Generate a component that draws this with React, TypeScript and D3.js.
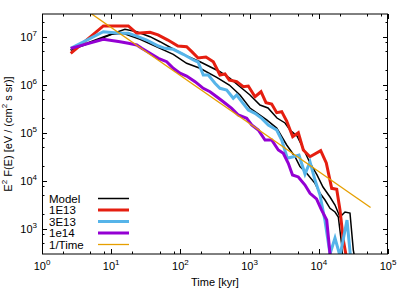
import React from "react";
import * as d3 from "d3";

// ---- data (time [kyr], E^2 F(E)) ----
const modelA: [number, number][] = [
  [2.6, 5.33e6], [4.94, 7.83e6], [7.69, 9.95e6], [15.8, 1.44e7], [23.4, 1.28e7],
  [36.4, 1.01e7], [50.7, 7.94e6], [83.6, 5.33e6], [123, 4.0e6], [192, 3.04e6],
  [268, 2.39e6], [373, 1.88e6], [521, 1.37e6], [726, 9.16e5], [1013, 6.16e5],
  [1413, 3.81e5], [1845, 3.3e5], [2489, 2.04e5], [3250, 1.61e5], [3837, 1.15e5],
  [4842, 8.61e4], [5912, 4.84e4], [7463, 2.36e4], [9419, 1.33e4], [11500, 7.46e3],
  [14520, 4.62e3], [17140, 3.15e3], [20240, 1.77e3], [23920, 2.25e3], [28230, 2.14e3],
  [31540, 363], [34500, 177],
];
const modelB: [number, number][] = [
  [2.6, 5.33e6], [4.94, 7.46e6], [10.2, 1.13e7], [14.8, 1.19e7], [26.1, 8.91e6],
  [78.9, 4.34e6], [123, 2.82e6], [192, 2.22e6], [335, 1.44e6], [509, 9.95e5],
  [726, 6.16e5], [1013, 3.3e5], [1766, 1.86e5], [2464, 1.26e5], [3436, 5.6e4],
  [4530, 3.19e4], [5345, 1.98e4], [6683, 1.44e4], [8810, 8.91e3], [10410, 5.52e3],
  [12300, 4.0e3], [14520, 2.69e3], [17140, 2.25e3], [19140, 1.77e3], [21430, 462],
  [22390, 204],
];
const s1E13: [number, number][] = [
  [2.6, 4.55e6], [7.7, 1.69e7], [17.7, 1.69e7], [23.4, 1.19e7], [36.4, 1.25e7],
  [47.5, 1.1e7], [66, 8.6e6], [92, 6.46e6], [123, 6.25e6], [146, 4.92e6],
  [180, 3.63e6], [234, 3.81e6], [299, 3.04e6], [373, 1.61e6], [441, 1.69e6],
  [509, 1.26e6], [651, 1.17e6], [811, 9.16e5], [958, 9.48e5], [1197, 5.68e5],
  [1462, 7.21e5], [1726, 4.26e5], [2086, 4.0e5], [2464, 2.64e5], [2911, 2.77e5],
  [3436, 1.77e5], [4197, 8.34e4], [5058, 1.01e5], [5971, 4.4e4], [7463, 3.19e4],
  [10650, 4.26e4], [12830, 2.36e4], [15360, 7.0e3], [18150, 6.7e3], [20240, 2.48e3],
  [22600, 587], [25500, 225],
];
const s3E13: [number, number][] = [
  [2.6, 5.78e6], [7.69, 1.28e7], [13.4, 1.19e7], [17.7, 1.19e7], [23.4, 1.04e7],
  [32.6, 8.61e6], [48, 6.46e6], [59.9, 5.78e6], [78.9, 5.52e6], [110, 4.34e6],
  [154, 3.3e6], [180, 3.0e6], [214, 1.61e6], [253, 1.61e6], [316, 1.08e6],
  [373, 8.49e5], [467, 7.83e5], [581, 5.26e5], [651, 6.16e5], [769, 4.47e5],
  [958, 3.0e5], [1197, 2.56e5], [1496, 2.01e5], [1863, 1.46e5], [2464, 1.15e5],
  [2911, 7.11e4], [3508, 2.96e4], [4283, 3.19e4], [5176, 3.46e4], [6318, 1.39e4],
  [7463, 2.48e4], [8810, 1.04e4], [10410, 5.08e3], [12300, 1.46e3], [14520, 300],
  [17140, 646], [20240, 272], [25570, 1.53e3], [29190, 204],
];
const s1e14: [number, number][] = [
  [2.6, 5.78e6], [7.69, 8.91e6], [13.4, 7.94e6], [17.7, 7.36e6], [23.4, 6.78e6],
  [27.6, 5.78e6], [36.4, 4.55e6], [48, 3.58e6], [63.4, 3.04e6], [78.9, 2.22e6],
  [98.7, 1.75e6], [123, 1.53e6], [163, 1.17e6], [214, 8.49e5], [268, 7.21e5],
  [335, 5.68e5], [417, 4.47e5], [551, 3.25e5], [687, 2.36e5], [908, 2.01e5],
  [1072, 1.46e5], [1336, 1.15e5], [1670, 7.11e4], [2086, 7.11e4], [2600, 4.4e4],
  [3069, 3.76e4], [3624, 2.33e4], [4169, 1.33e4], [5058, 1.21e4], [6318, 8.21e3],
  [7463, 5.52e3], [9265, 4.2e3], [10940, 2.48e3], [13010, 1.53e3], [14520, 300],
  [15000, 177],
];
const invTime: [number, number][] = [
  [2.5, 6.27e7], [56000, 2.8e3],
];

const xDomain = [1, 1e5];
const yDomain = [300, 3e7];
const xMajor = [1, 10, 100, 1000, 10000, 100000];
const yMajor = [1e3, 1e4, 1e5, 1e6, 1e7];
const minorMult = [2, 5, 8];
const legendLabels = ["Model", "1E13", "3E13", "1e14", "1/Time"];

const C = {
  model: "#000000",
  r: "#e51e10",
  b: "#56b4e9",
  p: "#9400d3",
  o: "#e69f00",
};

const series = [
  { data: modelA, color: C.model, w: 1.5 },
  { data: modelB, color: C.model, w: 1.5 },
  { data: s1E13, color: C.r, w: 3 },
  { data: s3E13, color: C.b, w: 3 },
  { data: s1e14, color: C.p, w: 3 },
  { data: invTime, color: C.o, w: 1.3 },
];
const legendStyle = [
  { color: C.model, w: 1.5 },
  { color: C.r, w: 3 },
  { color: C.b, w: 3 },
  { color: C.p, w: 3 },
  { color: C.o, w: 1.3 },
];

const L = 42, R = 388, T = 14, B = 254;
const FONT = "'Liberation Sans', Arial, Helvetica, sans-serif";

export default function App() {
  const x = d3.scaleLog().domain(xDomain).range([L, R]);
  const y = d3.scaleLog().domain(yDomain).range([B, T]);
  const line = d3
    .line<[number, number]>()
    .x((d) => x(d[0]))
    .y((d) => y(d[1]));

  const xMinor: number[] = [];
  for (let e = 0; e < 5; e++)
    for (const m of minorMult) xMinor.push(m * Math.pow(10, e));
  const yMinor: number[] = [];
  for (let e = 2; e < 8; e++)
    for (const m of minorMult) {
      const v = m * Math.pow(10, e);
      if (v > yDomain[0] && v < yDomain[1]) yMinor.push(v);
    }

  const tickColor = "#000";
  return (
    <svg
      width={415}
      height={291}
      style={{ position: "absolute", left: 0, top: 0, display: "block", background: "#fff" }}
      fontFamily={FONT}
    >
      <defs>
        <clipPath id="plot">
          <rect x={L} y={T} width={R - L} height={B - T} />
        </clipPath>
      </defs>
      <rect x={0} y={0} width={415} height={291} fill="#fff" />

      {/* ticks */}
      <g stroke={tickColor} strokeWidth={1}>
        {xMajor.map((t) => (
          <g key={"xM" + t}>
            <line x1={Math.round(x(t)) + 0.5} x2={Math.round(x(t)) + 0.5} y1={B} y2={B - 5} />
            <line x1={Math.round(x(t)) + 0.5} x2={Math.round(x(t)) + 0.5} y1={T} y2={T + 5} />
          </g>
        ))}
        {xMinor.map((t) => (
          <g key={"xm" + t}>
            <line x1={Math.round(x(t)) + 0.5} x2={Math.round(x(t)) + 0.5} y1={B} y2={B - 2.5} />
            <line x1={Math.round(x(t)) + 0.5} x2={Math.round(x(t)) + 0.5} y1={T} y2={T + 2.5} />
          </g>
        ))}
        {yMajor.map((v) => (
          <g key={"yM" + v}>
            <line y1={Math.round(y(v)) + 0.5} y2={Math.round(y(v)) + 0.5} x1={L} x2={L + 5} />
            <line y1={Math.round(y(v)) + 0.5} y2={Math.round(y(v)) + 0.5} x1={R} x2={R - 5} />
          </g>
        ))}
        {yMinor.map((v) => (
          <g key={"ym" + v}>
            <line y1={Math.round(y(v)) + 0.5} y2={Math.round(y(v)) + 0.5} x1={L} x2={L + 2.5} />
            <line y1={Math.round(y(v)) + 0.5} y2={Math.round(y(v)) + 0.5} x1={R} x2={R - 2.5} />
          </g>
        ))}
      </g>

      {/* data lines */}
      <g clipPath="url(#plot)" fill="none" strokeLinejoin="miter" strokeLinecap="butt">
        {series.map((s, i) => (
          <path key={i} d={line(s.data) || ""} stroke={s.color} strokeWidth={s.w} />
        ))}
      </g>

      {/* border */}
      <g stroke="#000" strokeWidth={1} fill="none">
        <line x1={L} x2={R} y1={T} y2={T} />
        <line x1={L} x2={R} y1={B} y2={B} />
        <line x1={L + 0.5} x2={L + 0.5} y1={T} y2={B} />
        <line x1={R - 0.5} x2={R - 0.5} y1={T} y2={B} />
      </g>

      {/* x tick labels */}
      <g fontSize={11} fill="#000" textAnchor="middle">
        {xMajor.map((t, i) => (
          <text key={"xl" + t} x={x(t)} y={270}>
            10<tspan dy={-5} fontSize={8}>{i}</tspan>
          </text>
        ))}
      </g>
      {/* y tick labels */}
      <g fontSize={11} fill="#000" textAnchor="end">
        {yMajor.map((v) => (
          <text key={"yl" + v} x={37} y={y(v) + 4.5}>
            10<tspan dy={-5} fontSize={8}>{Math.round(Math.log10(v))}</tspan>
          </text>
        ))}
      </g>

      {/* axis titles */}
      <text x={(L + R) / 2} y={286} fontSize={11} textAnchor="middle">
        Time [kyr]
      </text>
      <text
        transform={`translate(12,${(T + B) / 2}) rotate(-90)`}
        fontSize={11}
        textAnchor="middle"
      >
        E<tspan dy={-5} fontSize={8}>2</tspan>
        <tspan dy={5}> F(E) [eV / (cm</tspan>
        <tspan dy={-5} fontSize={8}>2</tspan>
        <tspan dy={5}> s sr)]</tspan>
      </text>

      {/* legend */}
      <g fontSize={11.5}>
        {legendLabels.map((lab, i) => {
          const cy = 198.5 + i * 11.5;
          return (
            <g key={lab}>
              <text x={49} y={cy + 4}>{lab}</text>
              <line x1={98} x2={129} y1={cy} y2={cy} stroke={legendStyle[i].color} strokeWidth={legendStyle[i].w} />
            </g>
          );
        })}
      </g>
    </svg>
  );
}
